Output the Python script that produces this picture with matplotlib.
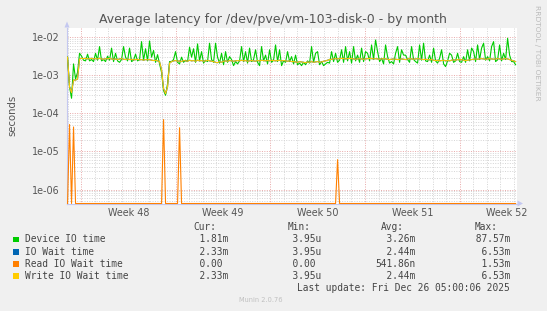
import numpy as np
import matplotlib
matplotlib.use("Agg")
import matplotlib.pyplot as plt
from matplotlib.patches import Rectangle, Polygon
from matplotlib.ticker import LogLocator, FixedLocator, FuncFormatter, NullFormatter

# ---------------- data ----------------
title = "Average latency for /dev/pve/vm-103-disk-0 - by month"
series_names = ["Device IO time", "IO Wait time", "Read IO Wait time", "Write IO Wait time"]
series_colors = ["#00cc00", "#0066b3", "#ff8000", "#ffcc00"]

week_labels = ["Week 48", "Week 49", "Week 50", "Week 51", "Week 52"]
week_label_days = [4.5, 11.5, 18.5, 25.5, 32.5]
week_start_days = [1, 8, 15, 22, 29]

# sample spacing (days) of the monthly RRD consolidation as seen in the picture
sample_step_days = 2 / 13.52
first_sample_day = 0.0

# Device IO time, milliseconds
device_ms = [
    3.0, 0.5, 0.25, 2.0, 0.8, 1.2, 3.8,
    3.2, 2.5, 2.4, 3.6, 2.4, 2.6, 2.3, 3.8, 2.5, 5.7,
    2.4, 2.6, 2.3, 3.2, 2.5, 5.2, 2.3, 3.8, 2.4, 2.2,
    2.6, 5.7, 3.0, 2.4, 5.2, 2.3, 2.5, 3.6, 2.4, 2.6,
    7.7, 2.5, 5.0, 2.4, 8.0, 3.0, 4.5, 2.2, 3.5, 2.0,
    1.2, 0.4, 0.3, 0.6, 2.3,
    2.3, 2.6, 4.2, 2.2, 2.0, 3.0, 2.2, 2.5, 2.3, 5.5,
    3.0, 5.0, 2.2, 6.7, 2.4, 4.2, 2.1, 2.5, 2.3, 7.0,
    2.6, 2.2, 7.0, 3.0, 2.1,
    3.8, 1.9, 4.2, 2.2, 3.1, 2.6, 1.8, 2.3, 2.0, 2.4,
    5.7, 2.3, 4.2, 2.1, 5.2, 2.3, 2.6, 4.7, 2.2, 1.8,
    5.7, 2.4, 3.4, 2.0, 4.7, 2.2, 2.5, 6.3, 2.3, 4.7,
    1.8, 2.4, 2.2, 4.2, 2.3, 3.1,
    2.0, 3.4, 1.9, 2.1, 1.8, 2.2, 1.9, 2.4, 2.1, 5.7,
    2.2, 3.8, 4.2, 1.9, 2.3, 1.8, 2.0, 2.2, 2.1, 4.2,
    2.3, 3.8, 2.2, 2.5, 4.7, 2.2, 5.7, 2.4, 4.2, 2.1,
    5.7, 2.4, 3.4, 2.2, 5.2, 2.3, 4.2, 3.8, 2.4, 6.3,
    2.6, 8.5, 4.2, 2.3, 2.8, 2.0, 6.3, 3.1, 2.1, 2.3,
    2.0, 3.8, 5.7, 2.2, 4.7, 3.4,
    3.4, 2.6, 2.2, 5.7, 2.6, 2.3, 2.1, 6.3, 2.5, 7.0,
    2.4, 2.3, 3.4, 2.2, 5.2, 2.4, 2.1, 2.8, 4.7, 2.0,
    1.7, 2.4, 3.8, 3.4, 2.2, 2.4, 3.8, 2.3, 2.2, 3.1,
    2.2, 4.7, 2.4, 5.2, 4.2, 2.3, 6.3, 2.6, 5.2, 7.0,
    2.5, 3.1, 2.4, 5.7, 7.7, 2.3, 2.55, 6.3, 2.4, 3.8,
    2.6, 9.4, 3.4, 2.3, 2.3, 1.9,
]

# Write IO Wait time, milliseconds
write_wait_ms = [
    3.0, 0.5, 0.35, 0.75, 0.75, 0.8, 2.7,
    2.8, 2.75, 2.8, 2.7, 2.75, 2.8, 2.7, 2.75, 2.7, 2.8,
    2.7, 2.65, 2.75, 2.7, 2.8, 2.7, 2.65, 2.7, 2.6, 2.7,
    2.75, 2.65, 2.6, 2.7, 2.6, 2.65, 2.55, 2.6, 2.65, 2.55,
    2.6, 2.5, 2.6, 2.55, 2.6, 2.5, 2.45, 2.5, 2.4, 2.3,
    1.4, 0.45, 0.33, 0.5, 2.1,
    2.3, 2.4, 2.45, 2.35, 2.4, 2.3, 2.45, 2.4, 2.35, 2.5,
    2.4, 2.45, 2.35, 2.5, 2.4, 2.45, 2.35, 2.4, 2.5, 2.4,
    2.35, 2.3, 2.2, 2.15, 2.3,
    2.2, 2.35, 2.4, 2.35, 2.45, 2.4, 2.35, 2.4, 2.45, 2.4,
    2.5, 2.4, 2.45, 2.35, 2.4, 2.45, 2.4, 2.35, 2.45, 2.4,
    2.5, 2.45, 2.4, 2.45, 2.4, 2.5, 2.45, 2.4, 2.45, 2.5,
    2.4, 2.45, 2.4, 2.35, 2.4, 2.3,
    2.3, 2.25, 2.2, 2.3, 2.25, 2.2, 2.15, 2.25, 2.2, 2.3,
    2.2, 2.25, 2.3, 2.2, 2.25, 2.35, 2.4, 2.5, 2.6,
    2.65, 2.7, 2.75, 2.7, 2.75, 2.8, 2.75, 2.7, 2.75, 2.8,
    2.75, 2.7, 2.65, 2.7, 2.75, 2.7, 2.65, 2.7, 2.75, 2.8,
    2.75, 2.7, 2.75, 2.7, 2.65, 2.7, 2.75, 2.7, 2.65, 2.6,
    2.65, 2.7, 2.65, 2.6, 2.65, 2.7, 2.65,
    2.6, 2.7, 2.75, 2.7, 2.65, 2.7, 2.75, 2.7, 2.65, 2.6,
    2.65, 2.6, 2.55, 2.6, 2.5, 2.45, 2.5, 2.4, 2.45, 2.5,
    2.4, 2.45, 2.4, 2.5, 2.55, 2.5, 2.6, 2.55, 2.6, 2.5,
    2.45, 2.5, 2.55, 2.6, 2.65, 2.7, 2.65, 2.7, 2.75, 2.7,
    2.65, 2.7, 2.75, 2.7, 2.65, 2.7, 2.75, 2.7, 2.65, 2.7,
    2.75, 2.7, 2.6, 2.5, 2.4, 2.3,
]

# IO Wait time coincides with Write IO Wait time in the picture
io_wait_ms = list(write_wait_ms)

# Read IO Wait time: zero except a few spikes (day, seconds)
read_spike_days = [0.15, 0.44, 7.08, 8.27, 20.03]
read_spike_values = [5.1e-5, 4.4e-5, 6.9e-5, 4.2e-5, 6.1e-6]

# legend statistics
cur_num = [1.81, 2.33, 0.00, 2.33]
cur_unit = ["m", "m", " ", "m"]
min_num = [3.95, 3.95, 0.00, 3.95]
min_unit = ["u", "u", " ", "u"]
avg_num = [3.26, 2.44, 541.86, 2.44]
avg_unit = ["m", "m", "n", "m"]
max_num = [87.57, 6.53, 1.53, 6.53]
max_unit = ["m", "m", "m", "m"]
col_headers = ["Cur:", "Min:", "Avg:", "Max:"]
last_update = "Last update: Fri Dec 26 05:00:06 2025"
footer = "Munin 2.0.76"
side_text = "RRDTOOL / TOBI OETIKER"

# ---------------- figure ----------------
W, H, DPI = 547, 311, 100
BG = "#f0f0f0"
TXT = "#555555"
AXC = "#c4c8f0"
MINOR = "#d4d4d4"
MAJOR = "#e8a8a8"

fig = plt.figure(figsize=(W / DPI, H / DPI), dpi=DPI, facecolor=BG)
ax = fig.add_axes([67 / W, 1 - 203.5 / H, 450 / W, 175.5 / H])
ax.set_facecolor("white")
ax.set_yscale("log")
YMIN, YMAX = 4.29e-7, 1.755e-2
ax.set_ylim(YMIN, YMAX)
ax.set_xlim(-0.04, 33.24)

n = len(device_ms)
t = first_sample_day + np.arange(n) * sample_step_days
device = np.array(device_ms) * 1e-3
io_wait = np.array(io_wait_ms) * 1e-3
write_wait = np.array(write_wait_ms) * 1e-3
t_w = first_sample_day + np.arange(len(write_wait)) * sample_step_days

read = np.zeros(n)
for d, v in zip(read_spike_days, read_spike_values):
    read[int(round((d - first_sample_day) / sample_step_days))] = v

# grid
dots = (0, (1, 1.5))
for d in range(0, 34):
    if d in week_start_days:
        continue
    ax.axvline(d, color=MINOR, lw=0.7, ls=dots, zorder=1)
for d in week_start_days:
    ax.axvline(d, color=MAJOR, lw=0.7, ls=dots, zorder=1.5)
ax.yaxis.set_major_locator(LogLocator(base=10, numticks=20))
ax.yaxis.set_minor_locator(LogLocator(base=10, subs=np.arange(2, 10), numticks=20))
ax.yaxis.set_major_formatter(FuncFormatter(lambda v, p: f"{v:.0e}"))
ax.yaxis.set_minor_formatter(NullFormatter())
ax.grid(which="minor", axis="y", color=MINOR, lw=0.7, ls=dots, zorder=1)
ax.grid(which="major", axis="y", color=MAJOR, lw=0.7, ls=dots, zorder=1.5)
ax.set_axisbelow(True)

ax.xaxis.set_major_locator(FixedLocator(week_label_days))
ax.set_xticklabels(week_labels)
ax.tick_params(axis="both", which="both", length=0, labelsize=6.9, colors=TXT)
ax.tick_params(axis="y", pad=5)
ax.tick_params(axis="x", pad=3.5)

for s in ["top", "right"]:
    ax.spines[s].set_visible(False)
for s in ["left", "bottom"]:
    ax.spines[s].set_color(AXC)
    ax.spines[s].set_linewidth(0.8)

lw = 0.8
ax.plot(t, device, color=series_colors[0], lw=lw, zorder=3)
ax.plot(t_w, io_wait, color=series_colors[1], lw=lw, zorder=4)
ax.plot(t, np.maximum(read, YMIN), color=series_colors[2], lw=lw, zorder=5, clip_on=False)
ax.plot(t_w, write_wait, color=series_colors[3], lw=lw, zorder=6)

# axis arrows
def fx(x):
    return x / W

def fy(y):
    return 1 - y / H

fig.patches.append(Polygon([(fx(64.5), fy(27.5)), (fx(69.5), fy(27.5)), (fx(67), fy(21.5))],
                           closed=True, transform=fig.transFigure, facecolor=AXC, edgecolor="none"))
fig.patches.append(Polygon([(fx(517.5), fy(200.5)), (fx(517.5), fy(206.5)), (fx(523), fy(203.5))],
                           closed=True, transform=fig.transFigure, facecolor=AXC, edgecolor="none"))

# texts
fig.text(fx(272.7), fy(19), title, ha="center", va="center", fontsize=9, color=TXT)
fig.text(fx(12), fy(115.5), "seconds", rotation=90, ha="center", va="center", fontsize=7.3, color=TXT)
fig.text(fx(537), fy(53), side_text, rotation=270, ha="center", va="center", fontsize=5.4, color="#bbbbbb")

mono = "DejaVu Sans Mono"
fs = 6.85
LTXT = "#444444"
header_x = [193.3, 287.3, 381, 475]
value_x = [188, 281.4, 375.4, 469.5]
for hx, h in zip(header_x, col_headers):
    fig.text(fx(hx), fy(227.3), h, ha="left", va="center", fontsize=fs, family=mono, color=LTXT)

row_y = [239.3, 251.7, 263.7, 275.7]
cols = [(cur_num, cur_unit), (min_num, min_unit), (avg_num, avg_unit), (max_num, max_unit)]
for i, (name, col) in enumerate(zip(series_names, series_colors)):
    y = row_y[i]
    fig.patches.append(Rectangle((fx(13.3), fy(y + 2.8)), 5.6 / W, 5.6 / H,
                                 transform=fig.transFigure, facecolor=col, edgecolor="none"))
    fig.text(fx(25), fy(y), name, ha="left", va="center", fontsize=fs, family=mono, color=LTXT)
    for vx, (nums, units) in zip(value_x, cols):
        fig.text(fx(vx), fy(y), f"{nums[i]:6.2f}{units[i]}", ha="left", va="center",
                 fontsize=fs, family=mono, color=LTXT)

fig.text(fx(509.7), fy(287.7), last_update, ha="right", va="center", fontsize=fs, family=mono, color=LTXT)
fig.text(fx(261), fy(300), footer, ha="center", va="center", fontsize=4.8, color="#c0c0c0")

fig.savefig("out.png", dpi=DPI, facecolor=BG)
